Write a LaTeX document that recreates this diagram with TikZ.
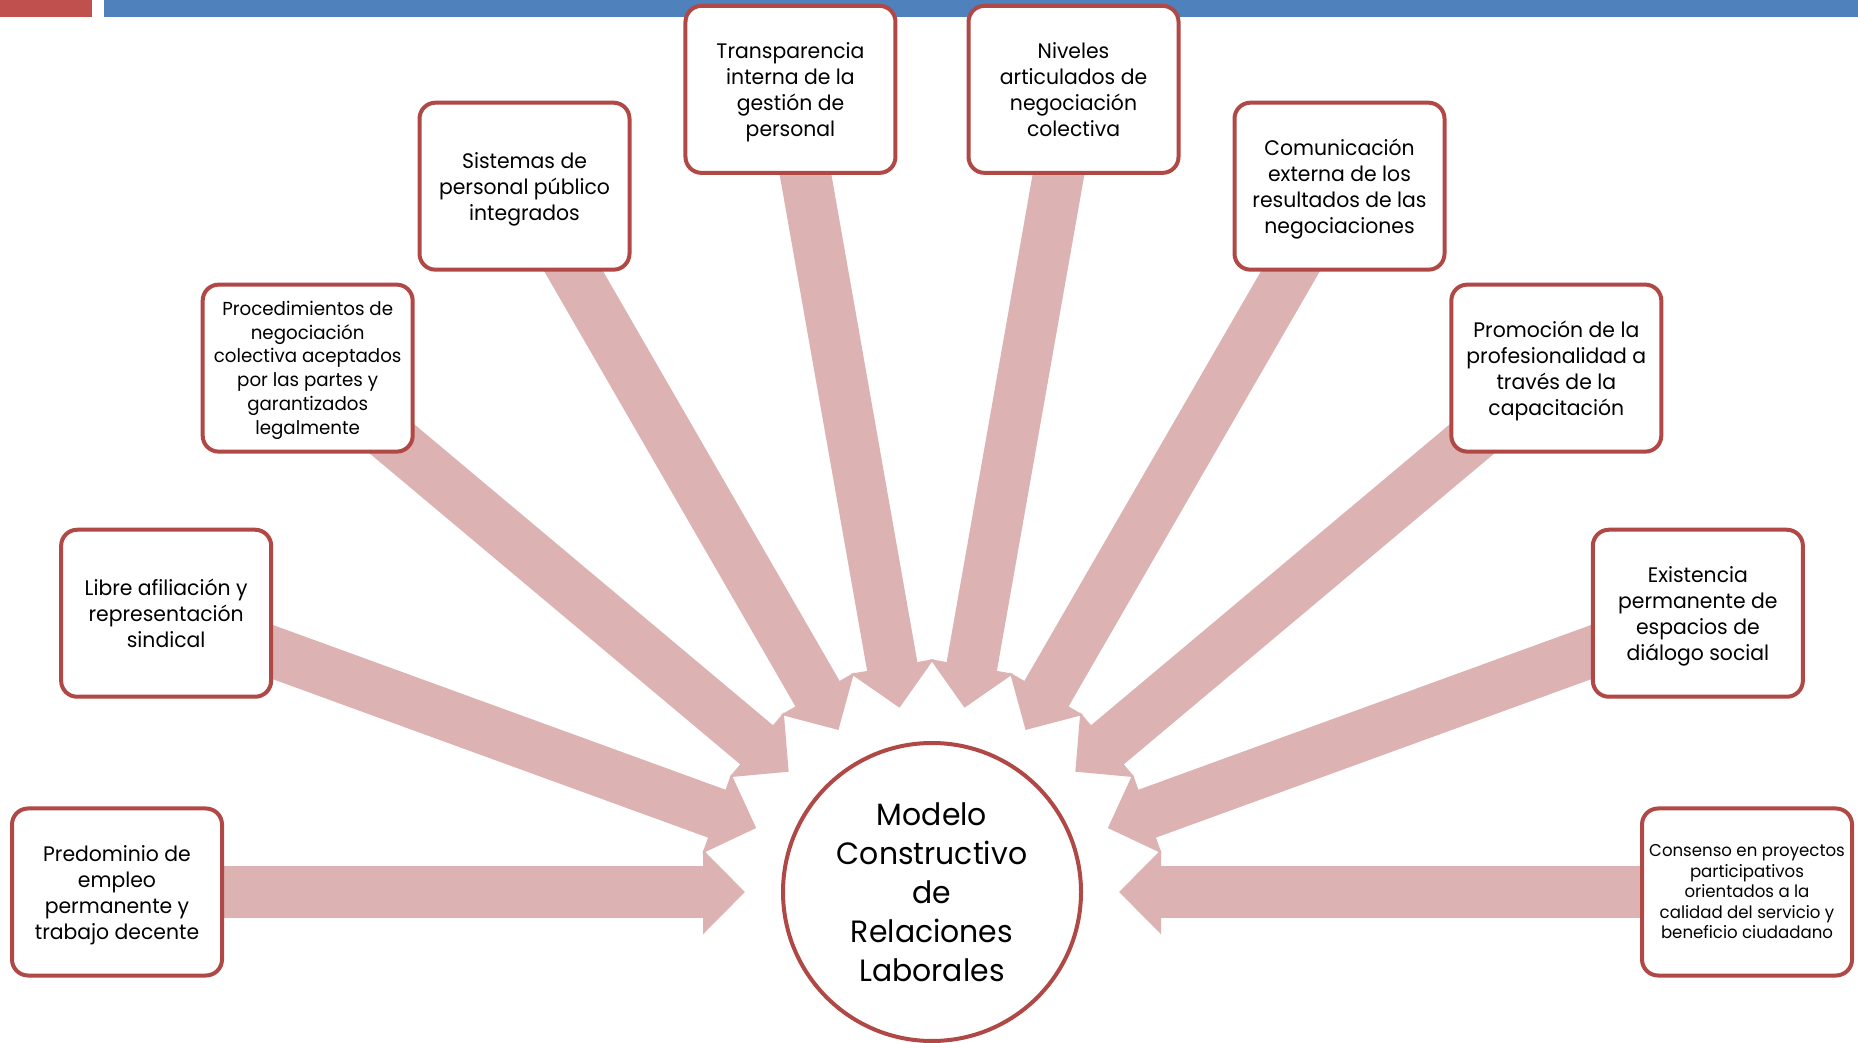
\documentclass[tikz,border=0pt]{standalone}
\usepackage{fontspec}
\setmainfont[FakeStretch=0.97]{Poppins}
\usetikzlibrary{arrows.meta,backgrounds}
\definecolor{boxred}{RGB}{176,72,70}
\definecolor{arrowpink}{RGB}{221,178,178}
\definecolor{barred}{RGB}{192,80,77}
\definecolor{barblue}{RGB}{79,129,189}
\pgfkeys{/tikz/toplift/.initial=24pt}
\newcommand\liftline{\rule{0pt}{\pgfkeysvalueof{/tikz/toplift}}}
\begin{document}
\begin{tikzpicture}[
  topic/.style={draw=boxred, line width=4pt, fill=white, rounded corners=16pt,
    minimum width=210pt, minimum height=167pt, align=center, inner sep=0pt,
    font=\fontsize{21}{26}\selectfont, execute at end node=\strut},
  smalltext/.style={font=\fontsize{18.8}{23.7}\selectfont, toplift=20.5pt},
  tinytext/.style={font=\fontsize{17.1}{20.5}\selectfont, toplift=18pt},
  hub/.style={circle, draw=boxred, line width=4pt, fill=white, minimum size=298pt,
    align=center, inner sep=0pt, font=\fontsize{30.8}{39}\selectfont},
  flow/.style={arrowpink, line width=51pt, -{Triangle[length=42pt,width=82pt]}, shorten >=36pt}
]
\useasboundingbox (0,0) rectangle (1858pt,1042pt);
\fill[barred] (0,1025pt) rectangle (92pt,1042pt);
\fill[barblue] (104pt,1025pt) rectangle (1858pt,1042pt);

\node[hub] (c) at (932pt,150pt) {Modelo\\Constructivo\\de\\Relaciones\\Laborales};

\path (c) ++(180:815pt) node[topic] (b1) {\liftline Predominio de\\empleo\\permanente y\\trabajo decente};
\path (c) ++(160:815pt) node[topic] (b2) {\liftline Libre afiliación y\\representación\\sindical};
\path (c) ++(140:815pt) node[topic, smalltext] (b3) {\liftline Procedimientos de\\negociación\\colectiva aceptados\\por las partes y\\garantizados\\legalmente};
\path (c) ++(120:815pt) node[topic] (b4) {\liftline Sistemas de\\personal público\\integrados};
\path (c) ++(100:815pt) node[topic] (b5) {\liftline Transparencia\\interna de la\\gestión de\\personal};
\path (c) ++(80:815pt) node[topic] (b6) {\liftline Niveles\\articulados de\\negociación\\colectiva};
\path (c) ++(60:815pt) node[topic] (b7) {\liftline Comunicación\\externa de los\\resultados de las\\negociaciones};
\path (c) ++(40:815pt) node[topic] (b8) {\liftline Promoción de la\\profesionalidad a\\través de la\\capacitación};
\path (c) ++(20:815pt) node[topic] (b9) {\liftline Existencia\\permanente de\\espacios de\\diálogo social};
\path (c) ++(0:815pt) node[topic, tinytext] (b10) {\liftline Consenso en proyectos\\participativos\\orientados a la\\calidad del servicio y\\beneficio ciudadano};

\begin{pgfonlayer}{background}
\foreach \b in {b1,b2,b3,b4,b5,b6,b7,b8,b9,b10}
  \draw[flow] (\b.center) -- (c);
\end{pgfonlayer}
\end{tikzpicture}
\end{document}
